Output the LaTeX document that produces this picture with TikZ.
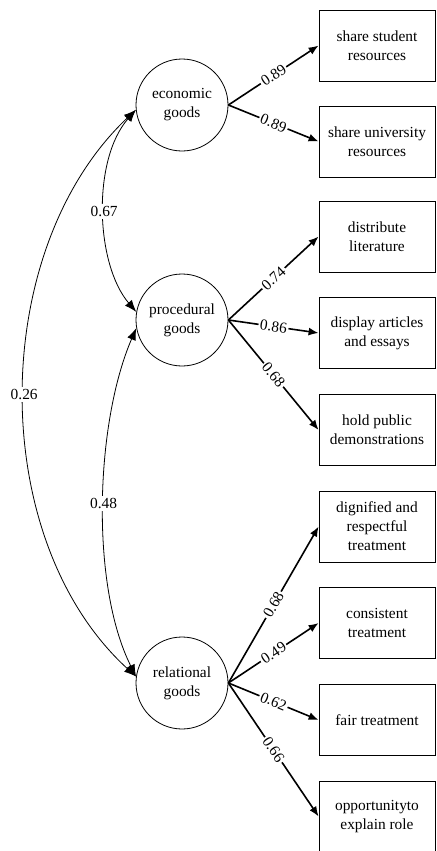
\documentclass[tikz,border=0pt]{standalone}
\usepackage{fontspec}
\setmainfont{Liberation Serif}
\usetikzlibrary{arrows.meta}

\begin{document}
\begin{tikzpicture}[x=0.5pt, y=-0.5pt,
    every node/.style={font=\fontsize{7.7pt}{9.5pt}\selectfont, align=center},
    latent/.style={draw, circle, minimum size=46pt, inner sep=0pt},
    item/.style={draw, minimum width=58pt, minimum height=35.5pt, inner sep=1pt},
    load/.style={draw, line width=0.8pt, -{Latex[length=5pt, width=4pt]}},
    cov/.style={draw, line width=0.4pt, {Latex[length=6pt, width=4.5pt]}-{Latex[length=6pt, width=4.5pt]}},
    coef/.style={fill=white, inner sep=0.8pt, sloped}]
        \useasboundingbox (0,0) rectangle (436,851);
        % latent factors
        \node[latent] (eco) at (182,105) {economic\\goods};
        \node[latent] (proc) at (182,320) {procedural\\goods};
        \node[latent] (rel) at (182,683) {relational\\goods};
        % observed items
        \node[item] (b1) at (377,45.5) {share student\\resources};
        \node[item] (b2) at (377,141.5) {share university\\resources};
        \node[item] (b3) at (377,236.5) {distribute\\literature};
        \node[item] (b4) at (377,333) {display articles\\and essays};
        \node[item] (b5) at (377,430) {hold public\\demonstrations};
        \node[item] (b6) at (377,526.5) {dignified and\\respectful\\treatment};
        \node[item] (b7) at (377,623) {consistent\\treatment};
        \node[item] (b8) at (377,720) {fair treatment};
        \node[item] (b9) at (377,816.5) {opportunityto\\explain role};
        % loadings
        \path[load] (eco.east) -- node[coef] {0.89} (b1.west);
        \path[load] (eco.east) -- node[coef] {0.89} (b2.west);
        \path[load] (proc.east) -- node[coef] {0.74} (b3.west);
        \path[load] (proc.east) -- node[coef] {0.86} (b4.west);
        \path[load] (proc.east) -- node[coef] {0.68} (b5.west);
        \path[load] (rel.east) -- node[coef] {0.68} (b6.west);
        \path[load] (rel.east) -- node[coef] {0.49} (b7.west);
        \path[load] (rel.east) -- node[coef] {0.62} (b8.west);
        \path[load] (rel.east) -- node[coef] {0.66} (b9.west);
        % correlations
        \path[cov] (eco.186) .. controls +(-44,50) and +(-41,-48) .. node[fill=white, inner sep=1pt] {0.67} (proc.170);
        \path[cov] (proc.190) .. controls +(-41,95) and +(-46,-92) .. node[fill=white, inner sep=1pt] {0.48} (rel.172);
        \path[cov] (eco.186) .. controls +(-148,140) and +(-150,-137) .. node[fill=white, inner sep=1pt] {0.26} (rel.172);
\end{tikzpicture}
\end{document}
